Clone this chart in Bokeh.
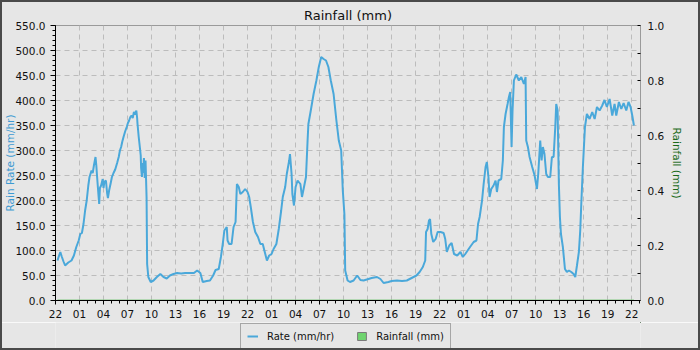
from datetime import datetime, timedelta
from bokeh.plotting import figure
from bokeh.layouts import column
from bokeh.models import (Range1d, LinearAxis, FixedTicker, NumeralTickFormatter,
                          DatetimeTickFormatter, Legend, LegendItem, InlineStyleSheet)
from bokeh.embed import file_html
from bokeh.resources import INLINE

# ---------------- data ----------------
start_time = datetime(2024, 5, 10, 22, 0)

rate_hours = [
    0.25, 0.45, 0.6, 0.8, 1.0, 1.2, 1.6, 2.0, 2.3, 2.6, 2.9, 3.1, 3.3, 3.5, 3.7, 3.9,
    4.1, 4.25, 4.5, 4.65, 4.8, 5.0, 5.1, 5.2, 5.35, 5.46, 5.55, 5.7, 5.9, 6.0, 6.1, 6.3,
    6.45, 6.55, 6.7, 6.9, 7.05, 7.25, 7.46, 7.7, 7.9, 8.05, 8.2, 8.35, 8.5, 8.7, 8.9,
    9.05, 9.2, 9.35, 9.5, 9.65, 9.8, 9.95, 10.1, 10.2, 10.25, 10.4, 10.55, 10.65, 10.7,
    10.8, 10.9, 10.96, 11.05, 11.15, 11.25, 11.32, 11.38, 11.45, 11.6, 11.9, 12.25,
    12.67, 13.1, 13.5, 13.9, 14.3, 14.75, 15.2, 15.7, 16.2, 16.84, 17.3, 17.7, 18.1,
    18.4, 18.9, 19.3, 19.7, 20.0, 20.4, 20.67, 20.9, 21.1, 21.4, 21.5, 21.7, 22.0,
    22.25, 22.5, 22.67, 22.9, 23.1, 23.4, 23.7, 24.0, 24.2, 24.4, 24.67, 24.96, 25.3,
    25.6, 25.9, 26.1, 26.42, 26.7, 27.0, 27.25, 27.6, 27.9, 28.2, 28.4, 28.7, 28.9,
    29.2, 29.3, 29.5, 29.6, 29.8, 30.0, 30.25, 30.6, 30.8, 31.0, 31.3, 31.5, 31.6,
    31.9, 32.25, 32.6, 32.9, 33.2, 33.5, 33.8, 34.1, 34.4, 34.75, 35.1, 35.4, 35.7,
    35.9, 36.1, 36.2, 36.5, 36.8, 37.25, 37.7, 38.1, 38.5, 39.1, 39.5, 40.17, 40.6,
    41.0, 41.6, 42.0, 42.67, 43.3, 43.9, 44.5, 45.1, 45.5, 45.9, 46.2, 46.3, 46.5,
    46.67, 46.8, 46.96, 47.2, 47.5, 47.75, 48.1, 48.5, 48.7, 48.9, 49.2, 49.5, 49.8,
    50.2, 50.6, 50.9, 51.2, 51.5, 51.8, 52.25, 52.6, 52.8, 53.0, 53.3, 53.5, 53.74,
    53.9, 54.1, 54.24, 54.45, 54.74, 54.99, 55.16, 55.36, 55.7, 55.9, 56.03, 56.24,
    56.49, 56.66, 56.82, 56.99, 57.11, 57.28, 57.57, 57.9, 58.2, 58.53, 58.74, 58.82,
    59.03, 59.24, 59.57, 59.87, 60.16, 60.32, 60.57, 60.74, 60.9, 61.1, 61.32, 61.53,
    61.82, 62.03, 62.24, 62.45, 62.57, 62.74, 62.9, 63.03, 63.16, 63.4, 63.66, 63.9,
    64.16, 64.45, 64.74, 64.95, 65.16, 65.4, 65.57, 65.7, 65.9, 66.03, 66.16, 66.4,
    66.74, 67.07, 67.37, 67.66, 67.99, 68.32, 68.6, 68.9, 69.24, 69.57, 69.86, 70.07,
    70.4, 70.7, 70.99, 71.32, 71.6, 71.86, 72.07, 72.28,
]

rate_mm_hr = [
    80, 90, 97, 87, 78, 70, 76, 80, 90, 107, 120, 133, 135, 153, 180, 200,
    230, 247, 260, 255, 270, 287, 270, 247, 215, 193, 225, 230, 243, 225, 237, 240,
    215, 205, 220, 235, 247, 255, 262, 275, 287, 300, 307, 318, 327, 338, 347,
    355, 360, 367, 370, 365, 377, 372, 380, 365, 353, 327, 305, 290, 265,
    247, 275, 255, 285, 245, 280, 240, 207, 73, 47, 37, 40,
    47, 53, 47, 44, 50, 53, 55, 54, 55, 55, 55, 60, 55,
    37, 39, 40, 50, 61, 63, 87, 113, 140, 147, 120, 113, 113,
    147, 157, 233, 227, 213, 217, 223, 217, 207, 187, 157, 137, 127,
    113, 113, 100, 80, 90, 93, 103, 113, 143, 180, 207, 227, 253,
    280, 293, 253, 213, 190, 227, 240, 233, 207, 223, 247, 320, 353,
    380, 413, 440, 467, 487, 483, 480, 467, 440, 413, 360, 320, 300,
    220, 173, 60, 40, 37, 40, 50, 41, 40, 43, 45, 47, 43,
    35, 37, 39, 40, 39, 40, 45, 50, 57, 67, 80, 137, 143,
    160, 163, 133, 117, 123, 137, 137, 135, 123, 97, 110, 115, 93,
    90, 97, 87, 93, 100, 107, 117, 120, 153, 167, 200, 233, 267,
    277, 247, 207, 223, 230, 240, 217, 240, 243, 280, 347, 373,
    393, 407, 417, 307, 380, 440, 452, 440, 447, 433, 447, 320,
    307, 287, 267, 250, 223, 253, 320, 280, 307, 293, 253, 247,
    247, 287, 287, 347, 393, 380, 233, 167, 133, 107, 63, 57,
    60, 57, 53, 47, 70, 97, 140, 193, 267, 307, 347, 373,
    363, 377, 363, 387, 380, 390, 401, 387, 403, 370, 393, 370,
    397, 383, 395, 380, 397, 387, 370, 350,
]

rain_hours = [0.25, 3, 6, 9, 12, 15, 18, 21, 24, 27, 30, 33, 36, 39, 42, 45, 48,
              51, 54, 57, 60, 63, 66, 69, 72.28]
rain_mm = [0.0, 0.0, 0.0, 0.0, 0.0, 0.0, 0.0, 0.0, 0.0, 0.0, 0.0, 0.0, 0.0,
           0.0, 0.0, 0.0, 0.0, 0.0, 0.0, 0.0, 0.0, 0.0, 0.0, 0.0, 0.0]

x_major_hours = [0, 3, 6, 9, 12, 15, 18, 21, 24, 27, 30, 33, 36, 39, 42, 45, 48,
                 51, 54, 57, 60, 63, 66, 69, 72]
x_end_hours = 73.1

rate_ticks = [0, 50, 100, 150, 200, 250, 300, 350, 400, 450, 500, 550]
rain_ticks = [0.0, 0.2, 0.4, 0.6, 0.8, 1.0]
rain_minor_ticks = [0.1, 0.3, 0.5, 0.7, 0.9]

# ---------------- helpers ----------------
EPOCH = datetime(1970, 1, 1)


def to_time(h):
    return start_time + timedelta(hours=h)


def to_ms(h):
    return (to_time(h) - EPOCH).total_seconds() * 1000.0


rate_times = [to_time(h) for h in rate_hours]
rain_times = [to_time(h) for h in rain_hours]
x_major_ms = [to_ms(h) for h in x_major_hours]
x_minor_ms = [to_ms(h) for h in range(0, 74)]
rate_minor = [v for v in range(0, 551, 10)]

BG = "#e6e6e6"
FONT = "DejaVu Sans"
BLUE = "#4aa8da"
RAIN_FILL = "#6fd46f"
RAIN_EDGE = "#7a7a7a"

p = figure(width=700, height=322, x_axis_type="datetime",
           x_range=Range1d(to_time(0), to_time(x_end_hours)),
           y_range=Range1d(0, 550),
           output_backend="svg", toolbar_location=None,
           min_border_left=55, min_border_right=60,
           min_border_top=25, min_border_bottom=22,
           background_fill_color=BG, border_fill_color=BG,
           outline_line_color="#9a9a9a", title="Rainfall (mm)")

p.title.align = "center"
p.title.text_font = FONT
p.title.text_font_size = "13px"
p.title.text_font_style = "normal"
p.title.text_color = "#111111"
p.title.standoff = 5

p.extra_y_ranges = {"rain": Range1d(0, 1)}

# grids
p.grid.grid_line_color = "#bcbcbc"
p.grid.grid_line_dash = "5 4"
p.grid.grid_line_width = 1

# x axis
xa = p.xaxis[0]
xa.ticker = FixedTicker(ticks=x_major_ms, minor_ticks=x_minor_ms)
xa.formatter = DatetimeTickFormatter(hours="%H", hourmin="%H", days="%H",
                                     minutes="%H", minsec="%H", seconds="%H",
                                     months="%H", years="%H")
xa.axis_line_color = "#000000"
xa.major_tick_out = 4
xa.major_tick_in = 0
xa.minor_tick_out = 3
xa.minor_tick_in = 0
xa.major_tick_line_color = "#000000"
xa.minor_tick_line_color = "#000000"
xa.major_label_standoff = 5
xa.major_label_text_font = FONT
xa.major_label_text_font_size = "10.5px"
xa.major_label_text_color = "#111111"

# left axis
ya = p.yaxis[0]
ya.ticker = FixedTicker(ticks=rate_ticks, minor_ticks=rate_minor)
ya.formatter = NumeralTickFormatter(format="0.0")
ya.axis_line_color = "#000000"
ya.major_tick_out = 5
ya.major_tick_in = 0
ya.minor_tick_out = 3
ya.minor_tick_in = 0
ya.major_label_standoff = 5
ya.major_label_text_font = FONT
ya.major_label_text_font_size = "10.5px"
ya.major_label_text_color = "#111111"
ya.axis_label = "Rain Rate (mm/hr)"
ya.axis_label_text_font = FONT
ya.axis_label_text_font_size = "10.5px"
ya.axis_label_text_font_style = "normal"
ya.axis_label_text_color = "#3d9ad2"
ya.axis_label_standoff = -4

# right axis
ra = LinearAxis(y_range_name="rain",
                ticker=FixedTicker(ticks=rain_ticks, minor_ticks=rain_minor_ticks),
                formatter=NumeralTickFormatter(format="0.0"))
ra.axis_line_color = "#9a9a9a"
ra.major_tick_in = 3
ra.major_tick_out = 0
ra.minor_tick_in = 3
ra.minor_tick_out = 0
ra.major_tick_line_color = "#000000"
ra.minor_tick_line_color = "#000000"
ra.major_label_standoff = 7
ra.major_label_text_font = FONT
ra.major_label_text_font_size = "10.5px"
ra.major_label_text_color = "#111111"
ra.axis_label = "Rainfall (mm)"
ra.axis_label_text_font = FONT
ra.axis_label_text_font_size = "10.5px"
ra.axis_label_text_font_style = "normal"
ra.axis_label_text_color = "#1b6b1b"
ra.axis_label_standoff = 4
p.add_layout(ra, "right")

# glyphs
p.vbar(x=rain_times, top=rain_mm, bottom=0, width=3600000 * 0.8,
       y_range_name="rain", fill_color=RAIN_FILL, line_color=RAIN_EDGE)
p.line(rain_times, rain_mm, y_range_name="rain", line_color="#80c880", line_width=2)
p.line(rate_times, rate_mm_hr, line_color=BLUE, line_width=2)

# ---------------- legend strip ----------------
# the same series are attached here only so the legend can draw their swatches;
# this strip's ranges keep them out of view
lf = figure(width=700, height=28, output_backend="svg", toolbar_location=None,
            x_axis_location=None, y_axis_location=None,
            min_border_left=0, min_border_right=0, min_border_top=0, min_border_bottom=0,
            background_fill_color=BG, border_fill_color=BG, outline_line_color=None,
            x_range=Range1d(0, 1), y_range=Range1d(-2, -1))
lf.grid.visible = False
lg_rate = lf.line(rate_times, rate_mm_hr, line_color=BLUE, line_width=2)
lg_rain = lf.vbar(x=rain_times, top=rain_mm, bottom=0, width=3600000 * 0.8,
                  fill_color=RAIN_FILL, line_color=RAIN_EDGE)

legend = Legend(items=[LegendItem(label="Rate (mm/hr)", renderers=[lg_rate]),
                       LegendItem(label="Rainfall (mm)", renderers=[lg_rain])],
                orientation="horizontal", location=(185, 1))
legend.background_fill_color = BG
legend.background_fill_alpha = 1.0
legend.border_line_color = "#666666"
legend.border_line_width = 1
legend.label_text_font = FONT
legend.label_text_font_size = "10px"
legend.label_text_color = "#111111"
legend.glyph_width = 11
legend.glyph_height = 10
legend.label_height = 12
legend.label_standoff = 9
legend.spacing = 22
legend.padding = 6
legend.margin = 0
lf.add_layout(legend)

layout = column(p, lf, spacing=0)
layout.stylesheets = [InlineStyleSheet(css=(
    ":host { position: relative; }"
    ":host::after { content: ''; position: absolute; left: 0; top: 0; right: 0; bottom: 0;"
    " border: 2px solid #4a4a4a; pointer-events: none; z-index: 1000; }"))]

open("out.html", "w").write(file_html(layout, INLINE))
